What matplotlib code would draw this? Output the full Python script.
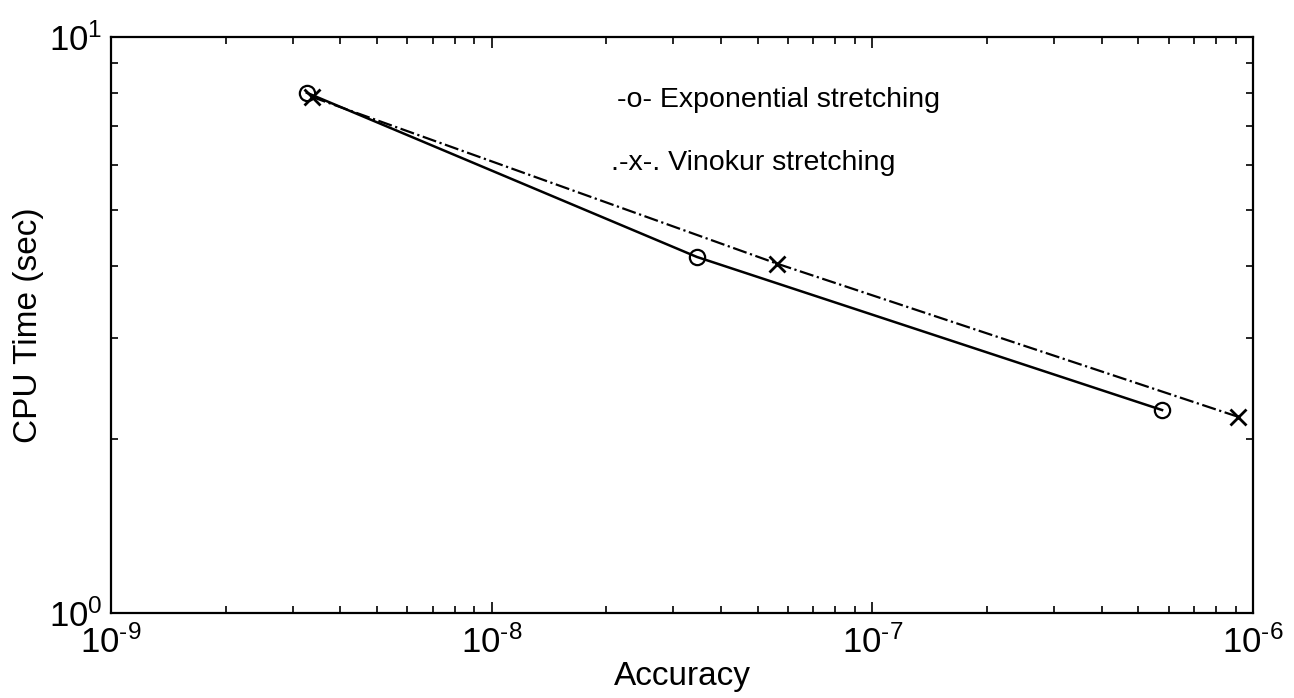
import matplotlib
matplotlib.use("Agg")
import matplotlib.pyplot as plt
from matplotlib.ticker import NullFormatter, FuncFormatter
import numpy as np

plt.rcParams['font.family'] = ['Liberation Sans', 'DejaVu Sans']
plt.rcParams['mathtext.fontset'] = 'custom'
plt.rcParams['mathtext.rm'] = 'Liberation Sans'
plt.rcParams['mathtext.default'] = 'regular'

# Data
acc_exp = [3.27e-9, 3.46e-8, 5.77e-7]
cpu_exp = [8.0, 4.15, 2.25]

acc_vin = [3.37e-9, 5.62e-8, 9.14e-7]
cpu_vin = [7.87, 4.04, 2.19]

fig = plt.figure(figsize=(12.94, 6.98), dpi=100)
ax = fig.add_axes([0.0858, 0.122, 0.8825, 0.825])

ax.loglog(acc_exp, cpu_exp, '-', color='black', lw=1.8,
          marker='o', mfc='none', mec='black', ms=11, mew=1.6)
ax.loglog(acc_vin, cpu_vin, '-.', color='black', lw=1.6,
          marker='x', ms=12, mew=2)

ax.set_xlim(1e-9, 1e-6)
ax.set_ylim(1, 10)


def pow10(v, pos):
    e = int(round(np.log10(v)))
    s = str(e).replace('-', r'\text{-}')
    return r'$10^{%s}$' % s


ax.xaxis.set_major_formatter(FuncFormatter(pow10))
ax.yaxis.set_major_formatter(FuncFormatter(pow10))
ax.xaxis.set_minor_formatter(NullFormatter())
ax.yaxis.set_minor_formatter(NullFormatter())

ax.tick_params(which='both', direction='in', top=True, right=True, width=1.2)
ax.tick_params(which='major', length=8, labelsize=25)
ax.tick_params(axis='x', which='major', pad=9)
ax.tick_params(axis='y', which='major', pad=6)
ax.tick_params(which='minor', length=5)
for s in ax.spines.values():
    s.set_linewidth(1.6)

ax.set_xlabel("Accuracy", fontsize=24, labelpad=1)
ax.set_ylabel("CPU Time (sec)", fontsize=24, labelpad=4)

ax.text(0.443, 0.891, "-o- Exponential stretching", transform=ax.transAxes,
        fontsize=20.5, va='center', ha='left')
ax.text(0.438, 0.781, ".-x-. Vinokur stretching", transform=ax.transAxes,
        fontsize=20.5, va='center', ha='left')

fig.savefig("out.png", dpi=100)
